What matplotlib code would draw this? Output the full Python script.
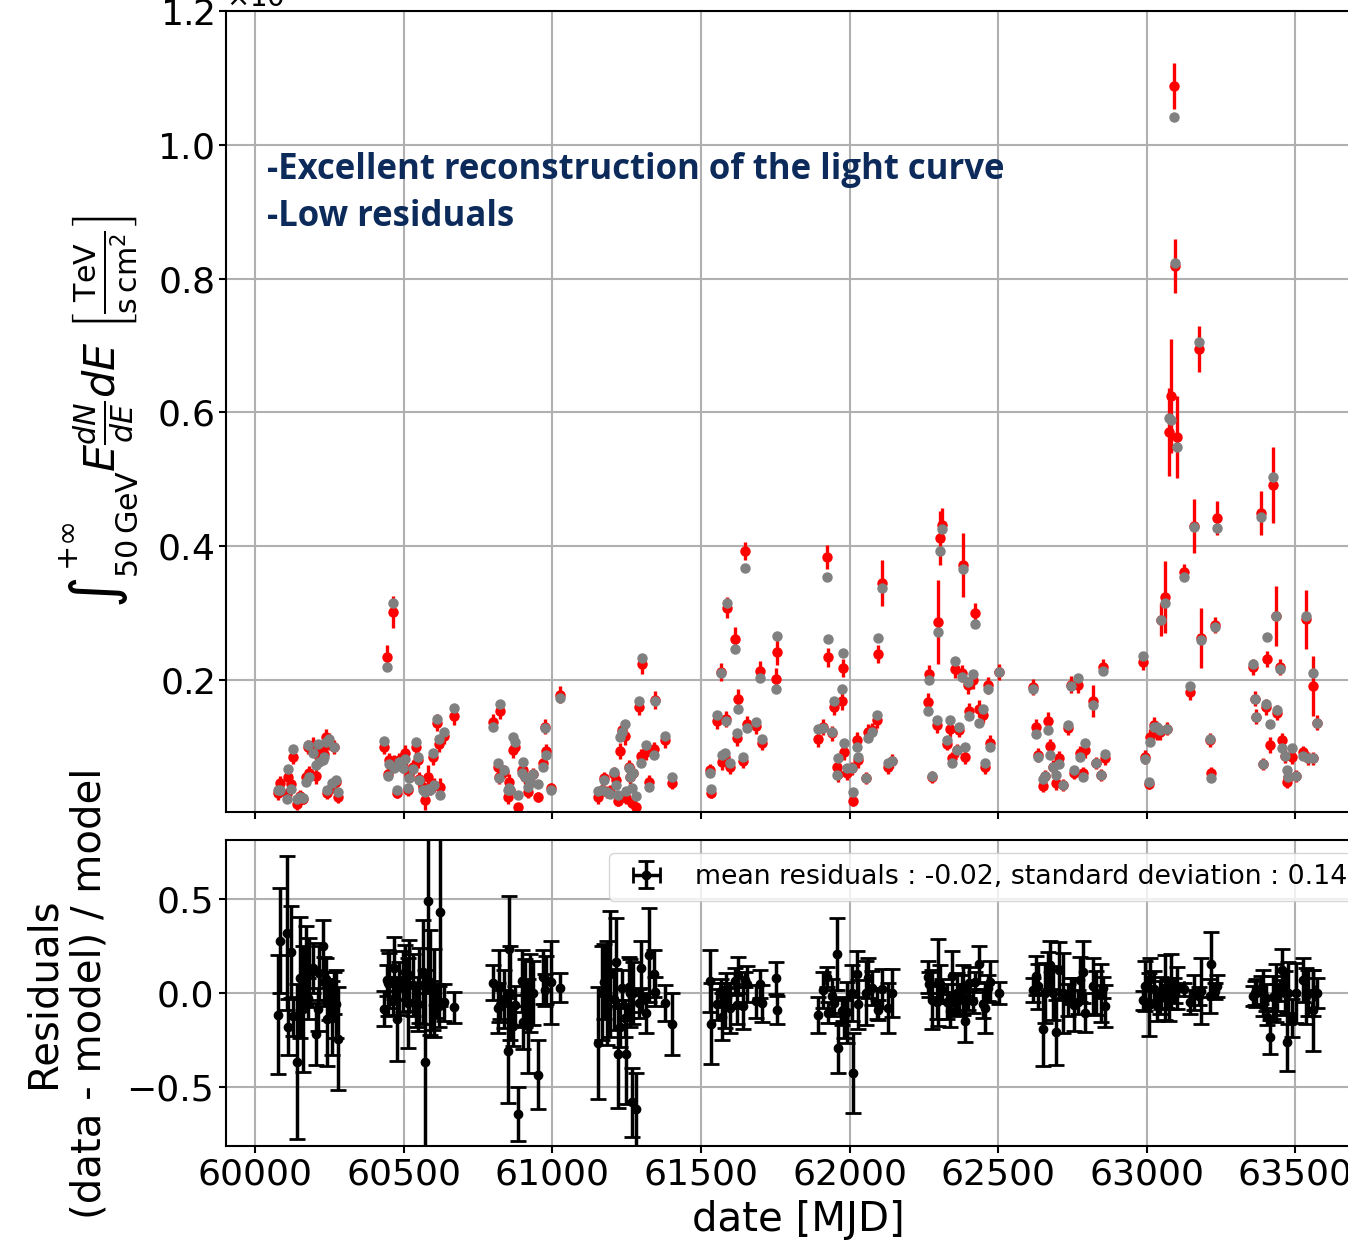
import numpy as np
import matplotlib
matplotlib.use("Agg")
import matplotlib.pyplot as plt

# ---------------- data (flux in units of 1e-10 TeV s^-1 cm^-2) ----------------
mjd = [
    60077, 60084, 60108, 60111, 60121, 60128, 60141, 60151, 60162, 60172, 60178, 60182, 60195,
    60205, 60212, 60215, 60229, 60232, 60239, 60242, 60249, 60259, 60266, 60273, 60279,
    60434, 60444, 60464, 60448, 60451, 60468, 60478, 60485, 60498, 60505, 60515, 60518, 60532,
    60542, 60548, 60552, 60565, 60572, 60582, 60589, 60599, 60602, 60612, 60619, 60623, 60636, 60670,
    60801, 60818, 60821, 60824, 60838, 60851, 60855, 60858, 60868, 60875, 60885, 60898, 60902,
    60909, 60919, 60925, 60935, 60952, 60969, 60976, 60979, 60996, 61026,
    61154, 61168, 61174, 61184, 61195, 61208, 61215, 61221, 61228, 61235, 61245, 61248, 61259,
    61262, 61269, 61272, 61282, 61292, 61299, 61302, 61316, 61326, 61343, 61346, 61380, 61403,
    61531, 61534, 61555, 61566, 61570, 61582, 61585, 61588, 61598, 61615, 61622, 61625, 61642,
    61649, 61656, 61686, 61699, 61706, 61753, 61757,
    61894, 61911, 61923, 61927, 61942, 61948, 61958, 61962, 61975, 61979, 61982, 61992, 62009,
    62012, 62026, 62029, 62056, 62063, 62076, 62093, 62096, 62110, 62130, 62144,
    62265, 62268, 62278, 62295, 62298, 62305, 62312, 62329, 62339, 62345, 62356, 62362, 62369,
    62379, 62382, 62389, 62399, 62403, 62416, 62423, 62436, 62450, 62456, 62467, 62473, 62504,
    62618, 62628, 62635, 62652, 62658, 62668, 62675, 62685, 62695, 62705, 62719, 62736, 62746,
    62756, 62769, 62776, 62786, 62793, 62820, 62830, 62847, 62854, 62860,
    62988, 62995, 63008, 63012, 63025, 63035, 63045, 63049, 63062, 63069, 63076, 63082, 63092,
    63096, 63103, 63126, 63146, 63160, 63177, 63183, 63214, 63217, 63230, 63237,
    63358, 63365, 63368, 63385, 63392, 63402, 63405, 63416, 63426, 63436, 63439, 63449, 63456,
    63466, 63473, 63476, 63490, 63503, 63527, 63537, 63543, 63558, 63561, 63574,
]
flux = [
    0.031, 0.046, 0.029, 0.055, 0.045, 0.085, 0.014, 0.027, 0.022, 0.055, 0.100, 0.061, 0.103,
    0.057, 0.095, 0.085, 0.100, 0.090, 0.115, 0.031, 0.108, 0.040, 0.100, 0.047, 0.025,
    0.100, 0.234, 0.302, 0.060, 0.080, 0.077, 0.031, 0.080, 0.072, 0.091, 0.036, 0.058, 0.070,
    0.100, 0.080, 0.052, 0.040, 0.021, 0.055, 0.038, 0.085, 0.043, 0.136, 0.104, 0.040, 0.116, 0.146,
    0.137, 0.070, 0.055, 0.154, 0.063, 0.025, 0.048, 0.036, 0.095, 0.100, 0.010, 0.065, 0.065,
    0.055, 0.033, 0.048, 0.059, 0.025, 0.076, 0.130, 0.094, 0.038, 0.178,
    0.025, 0.036, 0.053, 0.033, 0.033, 0.060, 0.050, 0.019, 0.094, 0.125, 0.116, 0.023, 0.070,
    0.055, 0.016, 0.061, 0.010, 0.160, 0.086, 0.224, 0.092, 0.048, 0.097, 0.170, 0.110, 0.046,
    0.065, 0.031, 0.139, 0.212, 0.077, 0.085, 0.142, 0.308, 0.070, 0.261, 0.113, 0.172, 0.079,
    0.393, 0.134, 0.131, 0.213, 0.106, 0.202, 0.242,
    0.112, 0.130, 0.384, 0.234, 0.120, 0.160, 0.070, 0.059, 0.169, 0.218, 0.092, 0.061, 0.068,
    0.019, 0.110, 0.080, 0.053, 0.122, 0.125, 0.140, 0.239, 0.345, 0.070, 0.079,
    0.167, 0.209, 0.055, 0.133, 0.287, 0.412, 0.432, 0.105, 0.127, 0.083, 0.216, 0.095, 0.125,
    0.210, 0.372, 0.085, 0.192, 0.154, 0.200, 0.300, 0.157, 0.148, 0.070, 0.192, 0.106, 0.212,
    0.190, 0.130, 0.088, 0.042, 0.057, 0.139, 0.101, 0.070, 0.046, 0.083, 0.043, 0.128, 0.193,
    0.061, 0.193, 0.091, 0.061, 0.095, 0.169, 0.076, 0.058, 0.219, 0.083,
    0.227, 0.085, 0.045, 0.115, 0.133, 0.122, 0.122, 0.290, 0.324, 0.127, 0.571, 0.625, 1.088,
    0.819, 0.563, 0.361, 0.182, 0.430, 0.695, 0.263, 0.110, 0.061, 0.282, 0.442,
    0.220, 0.172, 0.145, 0.450, 0.074, 0.160, 0.231, 0.103, 0.492, 0.296, 0.151, 0.219, 0.110,
    0.086, 0.048, 0.055, 0.085, 0.057, 0.092, 0.291, 0.083, 0.191, 0.083, 0.136,
]
model = [
    0.035, 0.036, 0.022, 0.067, 0.037, 0.097, 0.022, 0.025, 0.024, 0.048, 0.103, 0.055, 0.091,
    0.073, 0.104, 0.077, 0.080, 0.085, 0.107, 0.036, 0.112, 0.046, 0.100, 0.050, 0.033,
    0.109, 0.219, 0.315, 0.057, 0.075, 0.068, 0.036, 0.078, 0.068, 0.082, 0.038, 0.053, 0.067,
    0.107, 0.085, 0.050, 0.036, 0.033, 0.037, 0.036, 0.091, 0.043, 0.142, 0.112, 0.028, 0.122, 0.158,
    0.130, 0.076, 0.053, 0.164, 0.065, 0.036, 0.039, 0.036, 0.115, 0.107, 0.028, 0.061, 0.077,
    0.055, 0.040, 0.048, 0.059, 0.044, 0.070, 0.128, 0.088, 0.036, 0.173,
    0.034, 0.036, 0.050, 0.033, 0.030, 0.062, 0.043, 0.028, 0.115, 0.122, 0.134, 0.034, 0.068,
    0.055, 0.038, 0.061, 0.026, 0.169, 0.076, 0.233, 0.103, 0.040, 0.088, 0.169, 0.116, 0.055,
    0.061, 0.037, 0.148, 0.210, 0.088, 0.091, 0.139, 0.315, 0.076, 0.246, 0.121, 0.157, 0.085,
    0.367, 0.128, 0.137, 0.203, 0.112, 0.187, 0.266,
    0.127, 0.128, 0.354, 0.261, 0.122, 0.169, 0.058, 0.083, 0.187, 0.240, 0.106, 0.068, 0.068,
    0.033, 0.100, 0.085, 0.053, 0.113, 0.122, 0.148, 0.263, 0.337, 0.076, 0.079,
    0.154, 0.200, 0.057, 0.140, 0.272, 0.393, 0.426, 0.110, 0.140, 0.076, 0.228, 0.095, 0.130,
    0.204, 0.366, 0.100, 0.197, 0.146, 0.209, 0.284, 0.136, 0.157, 0.076, 0.187, 0.100, 0.212,
    0.187, 0.119, 0.085, 0.052, 0.057, 0.125, 0.088, 0.070, 0.058, 0.074, 0.043, 0.133, 0.191,
    0.065, 0.203, 0.085, 0.055, 0.106, 0.163, 0.076, 0.058, 0.213, 0.089,
    0.236, 0.082, 0.048, 0.107, 0.130, 0.130, 0.125, 0.290, 0.315, 0.127, 0.592, 0.589, 1.042,
    0.823, 0.548, 0.354, 0.191, 0.429, 0.705, 0.260, 0.112, 0.053, 0.279, 0.427,
    0.224, 0.172, 0.145, 0.444, 0.074, 0.164, 0.264, 0.134, 0.504, 0.296, 0.155, 0.216, 0.098,
    0.086, 0.065, 0.055, 0.098, 0.057, 0.086, 0.296, 0.083, 0.210, 0.083, 0.136,
]
flux_err = [
    0.011, 0.010, 0.009, 0.010, 0.009, 0.010, 0.009, 0.008, 0.008, 0.010, 0.011, 0.010, 0.012,
    0.012, 0.012, 0.011, 0.011, 0.011, 0.012, 0.009, 0.012, 0.009, 0.011, 0.009, 0.009,
    0.010, 0.018, 0.024, 0.010, 0.011, 0.011, 0.008, 0.011, 0.011, 0.012, 0.009, 0.010, 0.011,
    0.012, 0.012, 0.010, 0.010, 0.016, 0.018, 0.010, 0.012, 0.010, 0.013, 0.012, 0.014, 0.012, 0.013,
    0.012, 0.010, 0.010, 0.013, 0.010, 0.010, 0.011, 0.009, 0.012, 0.011, 0.004, 0.010, 0.011,
    0.010, 0.010, 0.010, 0.010, 0.008, 0.010, 0.011, 0.011, 0.008, 0.013,
    0.010, 0.009, 0.010, 0.009, 0.010, 0.010, 0.010, 0.008, 0.012, 0.012, 0.013, 0.009, 0.011,
    0.010, 0.007, 0.010, 0.005, 0.013, 0.011, 0.015, 0.011, 0.010, 0.011, 0.013, 0.011, 0.009,
    0.010, 0.008, 0.012, 0.014, 0.011, 0.011, 0.012, 0.016, 0.010, 0.018, 0.012, 0.015, 0.010,
    0.014, 0.012, 0.012, 0.015, 0.011, 0.016, 0.020,
    0.012, 0.012, 0.018, 0.014, 0.011, 0.012, 0.011, 0.011, 0.014, 0.013, 0.011, 0.011, 0.010,
    0.007, 0.012, 0.011, 0.009, 0.012, 0.011, 0.012, 0.014, 0.034, 0.010, 0.010,
    0.013, 0.013, 0.009, 0.012, 0.063, 0.040, 0.025, 0.010, 0.012, 0.010, 0.013, 0.010, 0.011,
    0.013, 0.048, 0.011, 0.013, 0.012, 0.013, 0.015, 0.013, 0.012, 0.010, 0.013, 0.011, 0.012,
    0.012, 0.012, 0.010, 0.010, 0.009, 0.013, 0.011, 0.010, 0.010, 0.011, 0.009, 0.011, 0.013,
    0.009, 0.013, 0.010, 0.009, 0.011, 0.024, 0.009, 0.009, 0.012, 0.010,
    0.012, 0.011, 0.008, 0.012, 0.012, 0.011, 0.011, 0.025, 0.054, 0.010, 0.066, 0.085, 0.035,
    0.040, 0.061, 0.012, 0.012, 0.040, 0.034, 0.045, 0.010, 0.009, 0.012, 0.025,
    0.012, 0.011, 0.011, 0.033, 0.009, 0.012, 0.012, 0.012, 0.057, 0.045, 0.011, 0.012, 0.011,
    0.010, 0.010, 0.009, 0.010, 0.009, 0.010, 0.044, 0.010, 0.045, 0.010, 0.011,
]
residual_xerr = 0.5
legend_text = "mean residuals : -0.02, standard deviation : 0.14"
notes = ["-Excellent reconstruction of the light curve", "-Low residuals"]
xticks = [60000, 60500, 61000, 61500, 62000, 62500, 63000, 63500]
yticks_top = [0.2, 0.4, 0.6, 0.8, 1.0, 1.2]
yticks_res = [-0.5, 0.0, 0.5]

# ---------------- derived quantities ----------------
mjd_a = np.array(mjd, dtype=float)
flux_a = np.array(flux)
model_a = np.array(model)
err_a = np.array(flux_err)
resid = (flux_a - model_a) / model_a
resid_err = err_a / model_a
scale = 1e-10

# ---------------- figure ----------------
fig = plt.figure(figsize=(13.48, 12.4), dpi=100)
ax1 = fig.add_axes([0.1677, 0.3452, 0.8494, 0.6459])
ax2 = fig.add_axes([0.1677, 0.0758, 0.8494, 0.2468], sharex=ax1)

ax1.errorbar(mjd_a, flux_a * scale, yerr=err_a * scale, fmt='o', color='red',
             ms=6.5, elinewidth=2.4, capsize=0, zorder=2)
ax1.plot(mjd_a, model_a * scale, 'o', color='grey', ms=6.5, zorder=3)

ax2.errorbar(mjd_a, resid, yerr=resid_err, xerr=residual_xerr, fmt='o', color='black',
             ms=6, elinewidth=2.5, capsize=5.5, capthick=2, label=legend_text, zorder=2)

for ax in (ax1, ax2):
    ax.grid(True, color='#b0b0b0', lw=1.5)
    ax.set_axisbelow(True)
    for s in ax.spines.values():
        s.set_linewidth(1.5)
    ax.tick_params(labelsize=26, width=1.5, length=5)

ax1.set_xlim(59902, 63755)
ax1.set_xticks(xticks)
ax1.set_ylim(0.0027 * scale, 1.2 * scale)
ax1.set_yticks([v * scale for v in yticks_top])
ax1.ticklabel_format(axis='y', useMathText=True)
ax1.yaxis.get_offset_text().set_fontsize(20)
plt.setp(ax1.get_xticklabels(), visible=False)

ax2.set_ylim(-0.81, 0.81)
ax2.set_yticks(yticks_res)

ax1.set_ylabel(r'$\int_{50\,\mathrm{GeV}}^{+\infty}E\frac{dN}{dE}dE\ \left[\frac{\mathrm{TeV}}{\mathrm{s\,cm^2}}\right]$',
               fontsize=31)
ax1.yaxis.set_label_coords(-0.075, 0.5)
ax2.set_ylabel('Residuals\n(data - model) / model', fontsize=29)
ax2.yaxis.set_label_coords(-0.102, 0.5)
ax2.set_xlabel('date [MJD]', fontsize=29, labelpad=6)

ax2.legend(loc='upper right', fontsize=19.3)

for i, t in enumerate(notes):
    fig.text(267 / 1348, 1 - (170 + 47 * i) / 1240, t, color='#0c2a5a', fontsize=25,
             fontweight='bold', family=['Open Sans', 'DejaVu Sans'], ha='left', va='center')

fig.savefig('out.png', dpi=100)
